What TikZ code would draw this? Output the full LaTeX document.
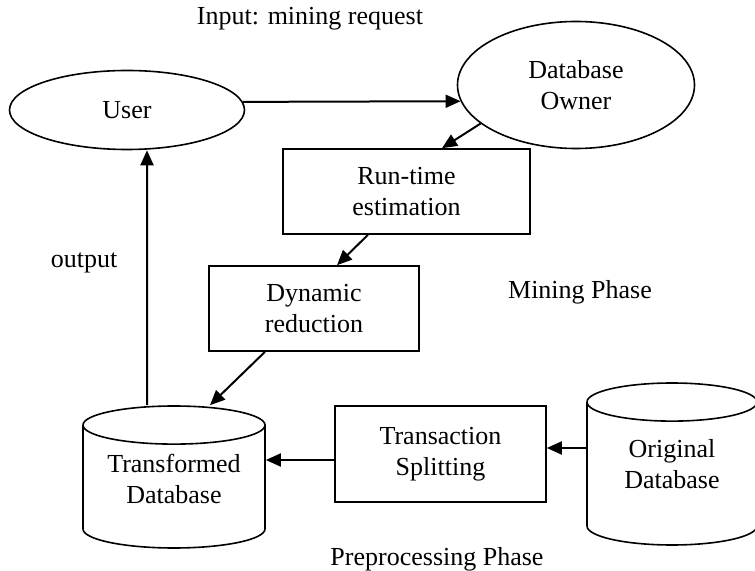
\documentclass[tikz,border=0pt]{standalone}
\usepackage{fontspec}
\setmainfont{Liberation Serif}
\usetikzlibrary{positioning, arrows.meta, shapes.geometric}

\begin{document}
\begin{tikzpicture}[x=0.5pt, y=-0.5pt,
	every node/.style={font=\fontsize{13}{15.5}\selectfont, align=center},
	actor/.style={draw, ellipse, line width=0.8pt, inner sep=0pt},
	stepbox/.style={draw, rectangle, line width=0.8pt, inner sep=0pt},
	store/.style={draw, cylinder, shape border rotate=90, aspect=0.4, line width=0.8pt, inner sep=0pt, anchor=shape center},
	flow/.style={line width=1pt, -{Triangle[length=7.5pt, width=6.5pt]}}]
	\useasboundingbox (0,0) rectangle (755,571);
	% nodes
	\node[actor, minimum width=117.5pt, minimum height=39.5pt] (user) at (127,110) {User};
	\node[actor, minimum width=118.5pt, minimum height=63.5pt] (owner) at (576,85) {Database\\ Owner};
	\node[stepbox, minimum width=123.5pt, minimum height=42.5pt] (runtime) at (406.5,191.5) {Run-time\\ estimation};
	\node[stepbox, minimum width=105pt, minimum height=42.5pt] (dynamic) at (314,308.5) {Dynamic\\ reduction};
	\node[stepbox, minimum width=105.5pt, minimum height=48pt] (split) at (440.5,454) {Transaction\\ Splitting};
	\node[store, minimum width=91pt, minimum height=71pt] (transformed) at (174,477) {\phantom{Database}};
	\node (transformedtext) at ([yshift=-1pt]transformed.shape center) {Transformed\\ Database};
	\node[store, minimum width=85pt, minimum height=81pt] (original) at (672,464) {\phantom{Database}};
	\node (originaltext) at (original.shape center) {Original\\ Database};
	% labels
	\node (input) at (310,19) {Input: mining request};
	\node (output) at (84,263) {output};
	\node (mining) at (580,292) {Mining Phase};
	\node (prep) at (437,559) {Preprocessing Phase};
	% connectors
	\draw[flow] (user.4) -- (owner.188.5);
	\draw[flow] (owner.202) -- ([xshift=17.75pt]runtime.north);
	\draw[flow] ([xshift=-19.25pt]runtime.south) -- ([xshift=11.5pt]dynamic.north);
	\draw[flow] ([xshift=-24.5pt]dynamic.south) -- ([xshift=18pt]transformed.north);
	\draw[flow] ([xshift=-13.5pt]transformed.north) -- ([xshift=10pt]user.south);
	\draw[flow] ([yshift=-3pt]split.west) -- ([yshift=-3pt]split.west -| transformed.east);
	\draw[flow] ([yshift=3pt]split.east -| original.west) -- ([yshift=3pt]split.east);
\end{tikzpicture}
\end{document}
